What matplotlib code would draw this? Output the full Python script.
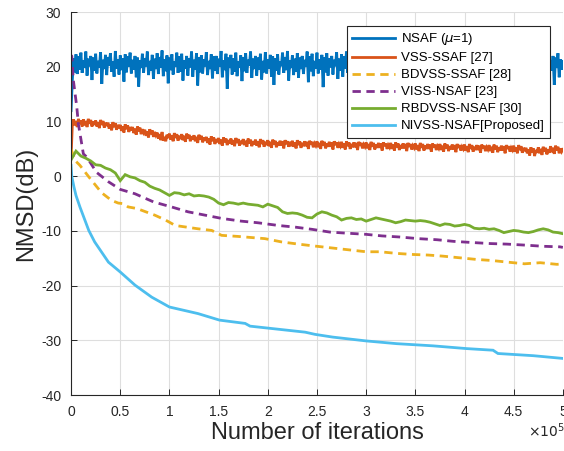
"""NMSD learning curves of six subband adaptive filters -> out.png."""

import matplotlib

matplotlib.use("Agg")
import matplotlib.pyplot as plt  # noqa: E402
import numpy as np  # noqa: E402

# --------------------------------------------------------------------------- #
# data (iterations in units of 1e5, NMSD in dB)
# --------------------------------------------------------------------------- #
LABELS = ["NSAF ($\\mu$=1)", "VSS-SSAF [27]", "BDVSS-SSAF [28]",
          "VISS-NSAF [23]", "RBDVSS-NSAF [30]", "NIVSS-NSAF[Proposed]"]
COLORS = ["#0072BD", "#D95319", "#EDB120", "#7E2F8E", "#77AC30", "#4DBEEE"]

# noisy curves sampled every 0.0125e5 iterations
x_dense = np.linspace(0, 5, 401)
nsaf = [
    12.0, 17.5, 21.6, 19.0, 22.3, 18.7, 21.9, 19.5, 22.6, 18.9,
    21.2, 19.8, 22.8, 18.4, 21.5, 20.1, 22.0, 17.6, 21.7, 19.3,
    22.4, 18.8, 21.1, 19.9, 22.7, 16.9, 21.3, 19.6, 22.2, 18.5,
    21.8, 20.2, 22.5, 19.1, 21.0, 18.2, 22.9, 19.7, 21.4, 18.6,
    22.1, 19.4, 21.6, 17.3, 22.3, 19.0, 21.9, 20.0, 22.6, 18.8,
    21.3, 19.5, 22.0, 18.1, 21.7, 16.4, 21.2, 19.8, 22.4, 18.9,
    21.6, 20.1, 22.8, 18.5, 21.1, 19.3, 22.2, 17.8, 21.5, 19.6,
    22.5, 18.7, 21.8, 19.9, 23.0, 18.3, 21.4, 19.2, 22.1, 17.0,
    21.7, 19.4, 22.3, 18.6, 21.0, 20.0, 22.6, 18.9, 21.9, 19.1,
    22.4, 17.5, 21.2, 19.7, 22.0, 18.4, 21.6, 19.9, 22.8, 18.2,
    21.3, 19.5, 22.5, 16.6, 21.8, 19.0, 22.1, 18.8, 21.4, 20.1,
    22.7, 18.5, 21.1, 19.6, 22.3, 17.9, 21.9, 19.3, 22.0, 18.7,
    21.5, 20.0, 22.9, 18.1, 21.2, 19.4, 22.4, 16.0, 21.7, 19.8,
    22.2, 18.6, 21.6, 19.1, 22.6, 18.3, 21.0, 19.9, 22.1, 17.4,
    21.8, 19.2, 22.5, 18.9, 21.3, 20.2, 22.8, 18.0, 21.5, 19.6,
    22.0, 18.4, 21.7, 19.5, 22.4, 17.7, 21.1, 19.0, 22.7, 18.8,
    21.4, 19.7, 22.2, 18.2, 21.9, 16.7, 21.6, 19.3, 22.3, 18.6,
    21.0, 20.1, 22.6, 18.9, 21.8, 19.4, 22.9, 17.5, 21.2, 19.8,
    22.1, 18.5, 21.5, 19.1, 22.5, 18.0, 21.7, 19.6, 22.0, 18.7,
    21.3, 20.0, 22.8, 17.2, 21.9, 19.2, 22.4, 18.3, 21.1, 19.7,
    22.6, 18.8, 21.4, 19.5, 22.2, 16.3, 21.8, 19.0, 22.5, 18.4,
    21.6, 19.9, 22.0, 18.6, 21.3, 20.1, 22.7, 17.8, 21.5, 19.3,
    22.3, 18.2, 21.9, 19.7, 22.8, 18.9, 21.0, 19.4, 22.1, 17.6,
    21.7, 19.1, 22.4, 18.5, 21.2, 19.8, 22.6, 18.0, 21.8, 19.5,
    22.0, 16.9, 21.6, 19.2, 22.9, 18.7, 21.4, 20.0, 22.3, 18.3,
    21.1, 19.6, 22.5, 17.4, 21.9, 19.0, 22.2, 18.8, 21.5, 19.9,
    22.7, 18.1, 21.3, 19.4, 22.0, 16.5, 21.7, 19.3, 22.4, 18.6,
    21.8, 20.2, 22.6, 18.4, 21.0, 19.7, 22.1, 17.9, 21.6, 19.1,
    22.8, 18.9, 21.4, 19.5, 22.3, 18.2, 21.9, 19.8, 22.0, 17.3,
    21.2, 19.0, 22.5, 18.7, 21.7, 20.0, 22.9, 18.5, 21.3, 19.6,
    22.2, 17.7, 21.8, 19.3, 22.6, 18.8, 21.5, 19.9, 22.1, 18.1,
    21.6, 19.4, 22.4, 16.8, 21.1, 19.2, 22.7, 18.6, 21.9, 20.1,
    22.0, 18.3, 21.3, 19.7, 22.8, 17.5, 21.7, 19.0, 22.3, 18.9,
    21.4, 20.0, 22.5, 18.4, 21.8, 19.6, 22.1, 16.1, 21.5, 19.3,
    22.6, 18.7, 21.2, 19.8, 22.4, 18.0, 21.9, 19.1, 22.9, 18.5,
    21.0, 19.5, 22.2, 17.8, 21.6, 20.2, 22.7, 18.8, 21.3, 19.4,
    22.5, 18.2, 21.7, 19.9, 22.0, 17.1, 21.4, 19.2, 22.6, 18.6,
    21.9, 20.0, 22.3, 18.9, 21.1, 19.7, 22.8, 18.3, 21.6, 17.6,
    22.1, 19.0, 21.5, 19.6, 22.4, 18.5, 21.8, 20.1, 22.7, 18.7,
    21.2, 19.3, 22.0, 16.7, 21.7, 19.8, 22.5, 18.1, 21.4, 19.5,
    21.0,
]
vss_ssaf = [
    3.5, 9.2, 10.4, 9.3, 10.1, 9.0, 10.5, 9.6, 10.2, 9.1,
    10.4, 9.3, 10.1, 9.0, 10.5, 9.6, 10.3, 9.1, 10.0, 9.4,
    10.2, 9.1, 9.9, 8.8, 10.3, 9.4, 10.1, 8.9, 9.8, 9.2,
    9.8, 8.7, 9.5, 8.4, 9.9, 9.0, 9.7, 8.5, 9.4, 8.8,
    9.4, 8.3, 9.1, 8.0, 9.5, 8.6, 9.3, 8.1, 9.0, 8.4,
    9.0, 7.9, 8.7, 7.6, 9.1, 8.2, 8.9, 7.7, 8.6, 8.0,
    8.5, 7.4, 8.2, 7.1, 8.6, 7.7, 8.4, 7.2, 8.1, 7.5,
    8.0, 6.9, 7.7, 6.6, 8.1, 6.5, 7.2, 6.4, 7.6, 7.0,
    7.8, 6.7, 7.5, 6.4, 7.9, 7.0, 7.7, 6.5, 7.4, 6.8,
    7.7, 6.6, 7.4, 6.3, 7.8, 6.9, 7.6, 6.4, 7.3, 6.7,
    7.5, 6.4, 7.2, 6.1, 7.6, 6.7, 7.4, 6.2, 7.1, 6.5,
    7.2, 6.1, 6.9, 5.8, 7.3, 6.4, 7.1, 5.9, 6.8, 6.2,
    7.0, 5.9, 6.7, 5.6, 7.1, 6.2, 6.9, 5.7, 6.6, 6.0,
    6.9, 5.8, 6.6, 5.5, 7.0, 6.1, 6.8, 5.6, 6.5, 5.9,
    6.8, 5.7, 6.5, 5.4, 6.9, 6.0, 6.7, 5.5, 6.4, 5.8,
    6.7, 5.6, 6.4, 5.3, 6.8, 5.9, 6.6, 5.4, 6.3, 5.7,
    6.6, 5.5, 6.3, 5.2, 6.7, 5.8, 6.5, 5.3, 6.2, 5.6,
    6.5, 5.6, 6.4, 5.1, 6.6, 5.9, 6.4, 5.4, 6.3, 5.5,
    6.5, 5.4, 6.2, 5.1, 6.6, 5.7, 6.4, 5.2, 6.1, 5.5,
    6.4, 5.5, 6.3, 5.0, 6.5, 5.8, 6.3, 5.3, 6.0, 5.6,
    6.4, 5.3, 6.1, 5.0, 6.5, 5.6, 6.3, 5.1, 6.0, 5.4,
    6.3, 5.4, 6.2, 4.9, 6.4, 5.7, 6.2, 5.2, 5.9, 5.5,
    6.3, 5.2, 6.0, 4.9, 6.4, 5.5, 6.2, 5.0, 5.9, 5.3,
    6.2, 5.3, 6.1, 4.8, 6.3, 5.6, 6.1, 5.1, 5.8, 5.4,
    6.2, 5.1, 5.9, 4.8, 6.3, 5.4, 6.1, 4.9, 5.8, 5.2,
    6.1, 5.2, 6.0, 4.7, 6.2, 5.5, 6.0, 5.0, 5.7, 5.3,
    6.1, 5.0, 5.8, 4.7, 6.2, 5.3, 6.0, 4.8, 5.7, 5.1,
    6.0, 5.1, 5.9, 4.6, 6.1, 5.4, 5.9, 4.9, 5.6, 5.2,
    6.0, 4.9, 5.7, 4.6, 6.1, 5.2, 5.9, 4.7, 5.6, 5.0,
    5.9, 5.0, 5.8, 4.5, 6.0, 5.3, 5.8, 4.8, 5.5, 5.1,
    5.9, 4.8, 5.6, 4.5, 6.0, 5.1, 5.8, 4.6, 5.5, 4.9,
    5.8, 4.9, 5.7, 4.4, 5.9, 5.2, 5.7, 4.7, 5.4, 5.0,
    5.8, 4.7, 5.5, 4.4, 5.9, 5.0, 5.7, 4.5, 5.4, 4.8,
    5.7, 4.8, 5.6, 4.3, 5.8, 5.1, 5.6, 4.6, 5.3, 4.9,
    5.7, 4.6, 5.4, 4.3, 5.8, 4.9, 5.6, 4.4, 5.3, 4.7,
    5.6, 4.7, 5.5, 4.2, 5.7, 5.0, 5.5, 4.5, 5.2, 4.8,
    5.6, 4.5, 5.3, 4.2, 5.7, 4.8, 5.5, 4.3, 5.2, 4.6,
    5.2, 4.2, 4.9, 3.8, 5.3, 4.4, 5.1, 3.7, 4.8, 4.3,
    5.3, 4.2, 5.0, 3.9, 5.4, 4.5, 5.2, 4.0, 4.9, 4.3,
    5.5, 4.4, 5.2, 4.1, 5.6, 4.7, 5.4, 4.2, 5.1, 4.5,
    4.9,
]

# RBDVSS sampled every 0.05e5 iterations
x_mid = np.linspace(0, 5, 101)
rbdvss = [
    3.0, 4.6, 3.7, 3.3, 2.8, 2.1, 2.0, 1.5, 1.2, 0.6,
    -0.8, 0.3, -0.1, -0.3, -0.8, -1.1, -1.8, -2.2, -2.5, -3.0,
    -3.5, -3.0, -3.1, -3.4, -3.2, -3.6, -3.5, -3.6, -3.8, -4.2,
    -4.9, -5.2, -4.8, -4.9, -5.1, -4.9, -5.1, -5.2, -5.3, -5.6,
    -5.1, -5.4, -5.7, -6.5, -6.8, -6.7, -6.8, -7.1, -7.5, -7.6,
    -6.9, -6.5, -6.7, -7.1, -7.4, -8.0, -7.7, -7.6, -7.9, -7.8,
    -8.2, -7.9, -7.6, -7.8, -8.0, -8.2, -8.5, -8.3, -8.0, -8.1,
    -8.2, -8.1, -8.2, -8.4, -8.7, -9.0, -8.7, -8.8, -9.1, -9.0,
    -8.8, -9.0, -9.5, -9.6, -9.5, -9.7, -9.6, -9.9, -10.3, -10.1,
    -9.9, -10.0, -10.2, -10.3, -10.1, -9.8, -9.6, -9.8, -10.2, -10.3,
    -10.5,
]

# smooth curves read at irregular points
x_bdvss = [0, 0.04, 0.09, 0.18, 0.31, 0.41, 0.48, 0.53, 0.58, 0.67, 0.85,
           0.96, 1.06, 1.29, 1.43, 1.53, 1.70, 1.97, 2.14, 2.31, 2.45, 2.70,
           2.85, 3.00, 3.14, 3.31, 3.48, 3.63, 3.78, 3.95, 4.12, 4.28, 4.44,
           4.61, 4.77, 4.94, 5.0]
bdvss = [5.0, 2.9, 2.0, -0.1, -3.0, -4.4, -4.9, -5.0, -5.6, -5.9, -7.1,
         -8.0, -9.0, -9.6, -9.9, -10.8, -11.0, -11.4, -12.0, -12.4, -12.7,
         -13.2, -13.5, -13.8, -13.8, -14.1, -14.3, -14.4, -14.6, -14.9,
         -15.2, -15.4, -15.7, -16.0, -15.8, -16.1, -16.0]

x_viss = [0, 0.007, 0.023, 0.058, 0.074, 0.125, 0.16, 0.26, 0.38, 0.5, 0.65,
          0.84, 1.02, 1.19, 1.53, 1.73, 1.90, 2.11, 2.28, 2.45, 2.63, 2.80,
          2.99, 3.16, 3.34, 3.53, 3.72, 3.89, 4.07, 4.26, 4.43, 4.63, 4.80,
          4.97, 5.0]
viss = [21.5, 22.0, 17.6, 12.7, 9.6, 4.1, 3.5, 0.7, -1.0, -2.4, -3.2, -4.7,
        -5.6, -6.5, -7.7, -8.2, -8.5, -9.0, -9.3, -9.7, -10.2, -10.4, -10.6,
        -10.9, -11.1, -11.4, -11.6, -11.9, -12.1, -12.3, -12.4, -12.6, -12.8,
        -12.9, -13.0]

x_nivss = [0, 0.007, 0.03, 0.05, 0.09, 0.18, 0.24, 0.38, 0.50, 0.65, 0.82,
           1.00, 1.29, 1.51, 1.77, 1.82, 2.38, 2.48, 2.66, 3.00, 3.31, 3.68,
           4.02, 4.29, 4.34, 4.70, 5.00]
nivss = [2.0, 0.0, -2.0, -3.5, -5.6, -9.9, -12.0, -15.7, -17.5, -19.9, -22.1,
         -23.9, -25.1, -26.3, -26.9, -27.4, -28.5, -28.9, -29.4, -30.1, -30.6,
         -31.0, -31.5, -31.8, -32.4, -32.8, -33.3]

XTICKS = [0, 0.5, 1, 1.5, 2, 2.5, 3, 3.5, 4, 4.5, 5]
YTICKS = [-40, -30, -20, -10, 0, 10, 20, 30]

INK = "#262626"


def main() -> None:
    plt.rcParams["font.family"] = ["Liberation Sans", "DejaVu Sans"]
    fig = plt.figure(figsize=(5.64, 4.51), dpi=100)
    ax = fig.add_axes([0.126, 0.124, 0.872, 0.849])

    series = [
        (x_dense, nsaf, "-"),
        (x_dense, vss_ssaf, "-"),
        (x_bdvss, bdvss, "--"),
        (x_viss, viss, "--"),
        (x_mid, rbdvss, "-"),
        (x_nivss, nivss, "-"),
    ]
    for (xs, ys, ls), lab, col in zip(series, LABELS, COLORS):
        line, = ax.plot(xs, ys, ls, color=col, lw=2, label=lab,
                        solid_joinstyle="miter")
        if ls == "--":
            line.set_dashes((3, 2))

    ax.set_xlim(0, 5)
    ax.set_ylim(-40, 30)
    ax.set_xticks(XTICKS)
    ax.set_xticklabels([f"{t:g}" for t in XTICKS])
    ax.set_yticks(YTICKS)
    ax.set_yticklabels([f"{t:g}" for t in YTICKS])
    ax.grid(True, color="#dedede", lw=0.8)
    ax.set_axisbelow(True)
    for side in ("top", "right"):
        ax.spines[side].set_visible(False)
    for side in ("left", "bottom"):
        ax.spines[side].set_color(INK)
        ax.spines[side].set_linewidth(0.8)
    ax.tick_params(direction="in", length=4.5, width=0.7, colors=INK,
                   labelsize=10, pad=7)

    ax.set_xlabel("Number of iterations", fontsize=17, color=INK, labelpad=2)
    ax.set_ylabel("NMSD(dB)", fontsize=17, color=INK, labelpad=3)
    ax.text(0.929, -0.094, r"$\times 10^{5}$", transform=ax.transAxes,
            fontsize=10, color=INK, ha="left", va="center")

    leg = ax.legend(loc="upper right", bbox_to_anchor=(0.9736, 0.9634),
                    borderaxespad=0, fontsize=9.5, handlelength=3.3,
                    handletextpad=0.4, labelspacing=0.36, borderpad=0.4,
                    fancybox=False, framealpha=1, edgecolor=INK)
    leg.get_frame().set_linewidth(0.8)

    fig.savefig("out.png", dpi=100)
    plt.close(fig)


if __name__ == "__main__":
    main()
